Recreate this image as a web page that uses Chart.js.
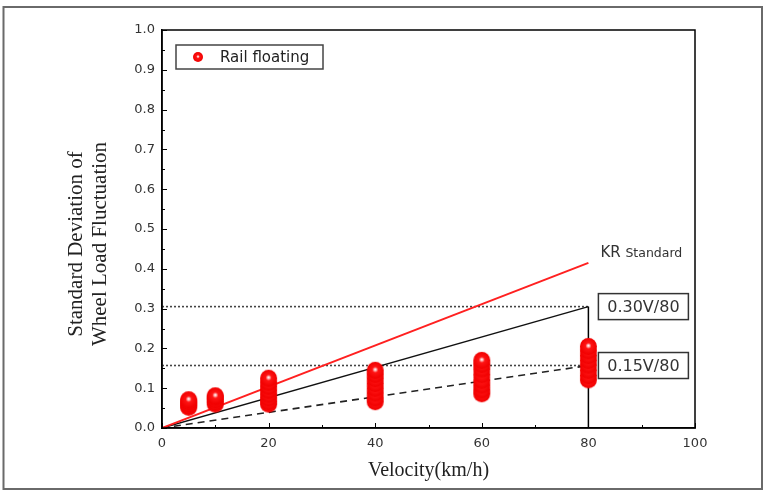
<!DOCTYPE html>
<html>
<head>
<meta charset="utf-8">
<script src="https://cdn.jsdelivr.net/npm/chart.js@4.4.1/dist/chart.umd.min.js"></script>
<style>
  html, body { margin: 0; padding: 0; background: #fff; }
</style>
</head>
<body>
<canvas id="wlfChart" width="766" height="492"></canvas>
<script>
// Measured wheel load fluctuation (rail floating track), one list per speed
const speeds = [5, 10, 20, 40, 60, 80];
const wlfAt5 = [0.052, 0.057, 0.062, 0.067, 0.071];
const wlfAt10 = [0.060, 0.066, 0.072, 0.078, 0.081];
const wlfAt20 = [0.060, 0.067, 0.076, 0.085, 0.095, 0.105, 0.115, 0.125];
const wlfAt40 = [0.066, 0.076, 0.088, 0.100, 0.112, 0.124, 0.135, 0.145];
const wlfAt60 = [0.086, 0.096, 0.108, 0.120, 0.134, 0.148, 0.160, 0.170];
const wlfAt80 = [0.121, 0.132, 0.145, 0.158, 0.170, 0.182, 0.194, 0.205];
const wlfBySpeed = [wlfAt5, wlfAt10, wlfAt20, wlfAt40, wlfAt60, wlfAt80];

// Reference lines
const limitX = [0, 80];
const krStandard = [0, 0.415];
const limit030 = [0, 0.305];
const limit015 = [0, 0.157];

// Axis ranges
const xRange = [0, 100];
const yRange = [0, 1.0];
const xStep = 20;
const yStep = 0.1;

function toPoints(xs, ys) {
  return xs.map((x, i) => ({ x: x, y: ys[i] }));
}

// red shaded ball like the original marker
function makeBall(r) {
  const c = document.createElement('canvas');
  const s = Math.ceil(r * 2) + 2;
  c.width = c.height = s;
  const g = c.getContext('2d');
  const cx = s / 2, cy = s / 2;
  const grad = g.createRadialGradient(cx, cy - r * 0.1, 0, cx, cy, r);
  grad.addColorStop(0, '#ffffff');
  grad.addColorStop(0.12, '#ffc8c8');
  grad.addColorStop(0.35, '#ff1414');
  grad.addColorStop(1, '#f00000');
  g.fillStyle = grad;
  g.beginPath();
  g.arc(cx, cy, r, 0, Math.PI * 2);
  g.fill();
  return c;
}

const ball = makeBall(8.5);
const legendBall = makeBall(5);

const railPoints = [];
speeds.forEach((v, i) => {
  wlfBySpeed[i].forEach(y => railPoints.push({ x: v, y: y }));
});

// frame, inward ticks, text boxes, legend, y title
const decorPlugin = {
  id: 'decor',
  beforeDraw(chart) {
    const ctx = chart.ctx;
    ctx.save();
    ctx.fillStyle = '#fff';
    ctx.fillRect(0, 0, chart.width, chart.height);
    ctx.restore();
  },
  afterDraw(chart) {
    const ctx = chart.ctx;
    const a = chart.chartArea;
    const xs = chart.scales.x;
    const ys = chart.scales.y;
    ctx.save();

    // outer border
    ctx.strokeStyle = '#6a6a6a';
    ctx.lineWidth = 2;
    ctx.strokeRect(3.5, 7, 758.5, 482);

    // plot frame
    ctx.strokeStyle = '#000';
    ctx.lineWidth = 1.5;
    ctx.strokeRect(a.left, a.top, a.right - a.left, a.bottom - a.top);

    // inward ticks
    ctx.lineWidth = 1;
    for (let v = xRange[0]; v <= xRange[1]; v += xStep / 2) {
      const px = Math.round(xs.getPixelForValue(v)) + 0.5;
      const len = (v % xStep === 0) ? 5 : 3;
      ctx.beginPath();
      ctx.moveTo(px, a.bottom);
      ctx.lineTo(px, a.bottom - len);
      ctx.stroke();
    }
    for (let k = 0; k <= 20; k++) {
      const py = Math.round(ys.getPixelForValue(k * yStep / 2)) + 0.5;
      const len = (k % 2 === 0) ? 5 : 3;
      ctx.beginPath();
      ctx.moveTo(a.left, py);
      ctx.lineTo(a.left + len, py);
      ctx.stroke();
    }

    // limit labels in boxes
    const bx = xs.getPixelForValue(limitX[1]) + 10;
    [[limit030[1], '0.30V/80'], [limit015[1], '0.15V/80']].forEach(([val, txt]) => {
      const cy = ys.getPixelForValue(val);
      ctx.fillStyle = '#fff';
      ctx.fillRect(bx, cy - 13, 90, 26);
      ctx.strokeStyle = '#333';
      ctx.lineWidth = 1.5;
      ctx.strokeRect(bx, cy - 13, 90, 26);
      ctx.fillStyle = '#333';
      ctx.font = '16px "DejaVu Sans"';
      ctx.textAlign = 'center';
      ctx.textBaseline = 'middle';
      ctx.fillText(txt, bx + 45, cy + 1);
    });

    // KR Standard label
    const kx = xs.getPixelForValue(limitX[1]) + 12;
    const ky = ys.getPixelForValue(krStandard[1]) - 6;
    ctx.fillStyle = '#333';
    ctx.textAlign = 'left';
    ctx.textBaseline = 'alphabetic';
    ctx.font = '15px "DejaVu Sans"';
    ctx.fillText('KR', kx, ky);
    const kw = ctx.measureText('KR ').width;
    ctx.font = '12.5px "DejaVu Sans"';
    ctx.fillText('Standard', kx + kw, ky);

    // legend
    const lx = a.left + 14, ly = a.top + 15;
    ctx.strokeStyle = '#444';
    ctx.lineWidth = 1.5;
    ctx.strokeRect(lx, ly, 147, 24);
    ctx.drawImage(legendBall, lx + 22 - legendBall.width / 2, ly + 12 - legendBall.height / 2);
    ctx.fillStyle = '#222';
    ctx.font = '15px "DejaVu Sans"';
    ctx.textBaseline = 'middle';
    ctx.fillText('Rail floating', lx + 44, ly + 13);

    // y axis title, two lines
    ctx.translate(0, 244);
    ctx.rotate(-Math.PI / 2);
    ctx.fillStyle = '#222';
    ctx.font = '21px "Liberation Serif"';
    ctx.textAlign = 'center';
    ctx.textBaseline = 'middle';
    ctx.fillText('Standard Deviation of', 0, 76);
    ctx.fillText('Wheel Load Fluctuation', 0, 100);
    ctx.restore();
  }
};

const ctx = document.getElementById('wlfChart').getContext('2d');
new Chart(ctx, {
  type: 'scatter',
  data: {
    datasets: [
      {
        label: 'Rail floating',
        data: railPoints,
        pointStyle: ball,
        pointRadius: 8.5,
        order: 0
      },
      {
        label: 'KR Standard',
        data: toPoints(limitX, krStandard),
        showLine: true,
        borderColor: '#ff2020',
        borderWidth: 2,
        pointRadius: 0,
        order: 1
      },
      {
        label: '0.30V/80',
        data: toPoints(limitX, limit030),
        showLine: true,
        borderColor: '#111',
        borderWidth: 1.5,
        pointRadius: 0,
        order: 1
      },
      {
        label: '0.15V/80',
        data: toPoints(limitX, limit015),
        showLine: true,
        borderColor: '#222',
        borderWidth: 1.6,
        borderDash: [7, 5],
        pointRadius: 0,
        order: 1
      },
      {
        label: '0.30 level',
        data: toPoints(limitX, [limit030[1], limit030[1]]),
        showLine: true,
        borderColor: '#444',
        borderWidth: 1.6,
        borderDash: [2, 2],
        pointRadius: 0,
        order: 1
      },
      {
        label: '0.15 level',
        data: toPoints(limitX, [limit015[1], limit015[1]]),
        showLine: true,
        borderColor: '#444',
        borderWidth: 1.6,
        borderDash: [2, 2],
        pointRadius: 0,
        order: 1
      },
      {
        label: '80 km/h',
        data: toPoints([limitX[1], limitX[1]], [0, limit030[1]]),
        showLine: true,
        borderColor: '#000',
        borderWidth: 1.5,
        pointRadius: 0,
        order: 1
      }
    ]
  },
  options: {
    responsive: false,
    animation: false,
    events: [],
    layout: { padding: { left: 0, top: 30, right: 71, bottom: 0 } },
    plugins: {
      legend: { display: false },
      tooltip: { enabled: false }
    },
    scales: {
      x: {
        type: 'linear',
        min: xRange[0],
        max: xRange[1],
        grid: { display: false, drawTicks: false },
        border: { display: true, color: '#000', width: 1.5 },
        ticks: {
          stepSize: xStep,
          padding: 8,
          color: '#333',
          font: { family: 'DejaVu Sans', size: 13 }
        },
        title: {
          display: true,
          text: 'Velocity(km/h)',
          color: '#222',
          font: { family: 'Liberation Serif', size: 20, lineHeight: 1.2 },
          padding: { top: 0, bottom: 9 }
        },
        afterFit(scale) { scale.height = 64; }
      },
      y: {
        type: 'linear',
        min: yRange[0],
        max: yRange[1],
        grid: { display: false, drawTicks: false },
        border: { display: true, color: '#000', width: 1.5 },
        ticks: {
          stepSize: yStep,
          padding: 7,
          color: '#333',
          font: { family: 'DejaVu Sans', size: 13 },
          callback: v => v.toFixed(1)
        },
        afterFit(scale) { scale.width = 162; }
      }
    }
  },
  plugins: [decorPlugin]
});
</script>
</body>
</html>
